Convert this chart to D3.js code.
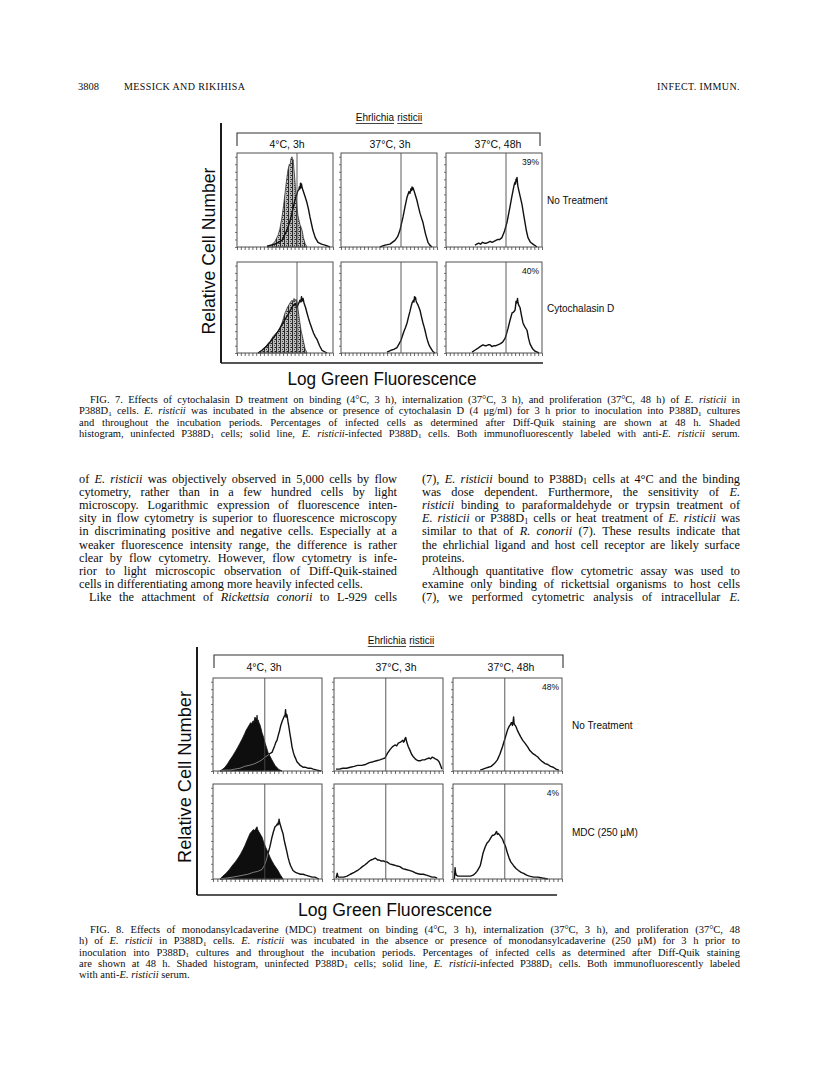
<!DOCTYPE html>
<html><head><meta charset="utf-8">
<script src="https://cdn.jsdelivr.net/npm/d3@7"></script>
<style>body{margin:0;background:#fff}svg{display:block}</style>
</head><body>
<svg id="page" width="816" height="1078"></svg>
<script>
// ---------------- DATA ----------------
const columnLabels = ["4°C, 3h", "37°C, 3h", "37°C, 48h"];
const fig7RowLabels = ["No Treatment", "Cytochalasin D"];
const fig8RowLabels = ["No Treatment", "MDC (250 µM)"];
const fig7Percent = [["", "", "39%"], ["", "", "40%"]];
const fig8Percent = [["", "", "48%"], ["", "", "4%"]];
const fig7Gate = 625;   // channel of the marker line
const fig8Gate = 475;
const channelDomain = [0, 1000];
const countDomain = [0, 100];
const xTickChannels = d3.range(0, 1001, 40);
const yTickCounts = d3.range(0, 97, 8);

// Fig. 7 histograms  [channel, relative count]
const f7NoTreat4C_uninf = [[312,0],[360,2],[396,6],[430,13],[448,20],[469,32],[485,44],[500,57],[515,70],[531,82],[545,88],[552,86],[562,94],[573,96],[580,91],[584,93],[594,82],[604,70],[615,53],[625,42],[635,33],[656,24],[677,18],[692,10],[708,4],[729,0]];
const f7NoTreat4C_inf = [[312,1],[396,3],[469,7],[521,18],[550,27],[573,36],[590,44],[604,50],[620,55],[635,60],[645,61],[650,64],[656,62],[662,68],[667,63],[672,67],[677,64],[688,60],[708,54],[729,47],[745,40],[760,32],[775,25],[790,18],[815,10],[844,5],[880,3],[917,2],[969,0]];
const f7NoTreat37C3h_inf = [[406,0],[458,2],[510,3],[562,7],[590,11],[615,18],[630,25],[646,32],[667,43],[688,53],[708,59],[718,57],[729,62],[735,60],[740,64],[745,61],[750,63],[760,60],[775,55],[790,50],[806,43],[823,36],[838,31],[854,26],[880,14],[906,5],[925,2],[948,0]];
const f7NoTreat37C48h_inf = [[302,2],[320,3],[340,4],[360,3],[380,5],[400,4],[420,4],[440,5],[460,6],[480,5],[500,6],[520,7],[540,8],[560,8],[583,10],[610,17],[635,26],[650,34],[667,43],[683,52],[698,60],[710,66],[719,69],[724,67],[729,72],[735,70],[740,74],[745,68],[750,64],[770,55],[792,45],[808,35],[823,26],[838,17],[854,10],[880,5],[906,3],[948,0]];
const f7Cyto4C_uninf = [[219,0],[260,3],[290,6],[313,9],[345,13],[375,18],[410,22],[448,27],[475,35],[500,44],[525,50],[552,55],[573,58],[585,56],[594,60],[604,57],[615,59],[625,56],[636,48],[646,40],[657,32],[667,25],[688,15],[708,5],[729,0]];
const f7Cyto4C_inf = [[219,0],[260,3],[313,8],[345,12],[375,16],[430,24],[479,33],[530,42],[583,52],[605,54],[625,50],[640,54],[656,58],[665,56],[672,62],[677,57],[688,60],[698,55],[714,50],[729,44],[745,38],[760,33],[780,27],[797,22],[815,18],[833,15],[860,8],[885,3],[938,0]];
const f7Cyto37C3h_inf = [[479,1],[520,3],[550,4],[583,6],[605,10],[625,14],[640,19],[656,24],[672,28],[688,33],[704,40],[719,46],[730,51],[740,55],[750,57],[755,58],[760,56],[766,62],[771,59],[776,61],[781,58],[786,56],[805,52],[823,47],[838,40],[854,33],[865,29],[875,25],[890,18],[906,12],[920,8],[932,6],[955,2],[979,0]];
const f7Cyto37C48h_inf = [[271,1],[300,3],[330,5],[355,7],[385,9],[405,8],[420,8],[440,9],[458,9],[479,7],[500,8],[520,8],[540,9],[563,10],[590,12],[615,16],[630,21],[646,27],[667,36],[688,44],[704,45],[719,47],[725,52],[730,57],[735,55],[740,56],[745,60],[750,55],[760,52],[771,50],[785,42],[802,33],[820,29],[844,25],[860,16],[875,10],[900,5],[927,2],[969,0]];

// Fig. 8 histograms
const f8NoTreat4C_uninf = [[64,0],[90,2],[110,4],[135,8],[156,12],[180,16],[200,20],[225,25],[248,30],[270,35],[290,40],[305,44],[320,47],[335,50],[345,52],[357,51],[367,54],[376,53],[385,58],[390,56],[395,57],[400,55],[404,60],[409,53],[414,55],[422,52],[430,50],[440,46],[450,41],[465,36],[478,30],[492,25],[505,20],[522,16],[540,12],[555,9],[569,6],[585,4],[600,2],[633,0]];
const f8NoTreat4C_inf = [[64,0],[110,1],[156,1],[200,2],[248,3],[290,5],[330,6],[360,7],[385,8],[420,10],[450,12],[478,15],[505,17],[525,19],[541,20],[555,24],[565,27],[577,31],[587,33],[598,38],[610,43],[622,49],[633,53],[640,55],[647,57],[654,59],[661,60],[664,64],[666,66],[668,60],[670,58],[675,61],[679,60],[683,57],[688,53],[697,47],[706,40],[716,33],[725,26],[737,20],[748,16],[760,13],[770,10],[785,8],[800,6],[815,5],[826,4],[850,4],[870,3],[895,3],[920,2],[954,1],[990,0]];
const f8NoTreat37C3h_inf = [[18,2],[50,2],[80,3],[115,3],[150,4],[185,5],[216,6],[255,6],[290,7],[325,9],[360,10],[390,11],[420,12],[445,13],[468,14],[490,19],[514,23],[535,26],[559,28],[575,27],[590,30],[610,31],[631,33],[638,31],[645,32],[652,35],[658,36],[664,33],[670,30],[682,26],[694,23],[712,18],[730,15],[745,13],[757,12],[775,11],[790,11],[810,12],[830,12],[850,13],[874,14],[887,13],[900,15],[915,14],[930,13],[948,12],[964,10],[978,6],[990,2]];
const f8NoTreat37C48h_inf = [[250,1],[275,2],[300,3],[325,4],[350,5],[380,8],[407,12],[430,18],[454,26],[477,35],[500,44],[515,48],[528,50],[535,52],[540,52],[545,49],[548,50],[552,54],[556,58],[560,52],[563,50],[572,49],[580,47],[590,44],[602,41],[620,37],[640,33],[660,30],[685,26],[705,22],[730,19],[755,17],[778,15],[800,12],[820,10],[845,8],[870,7],[895,5],[920,4],[945,2],[972,1]];
const f8MDC4C_uninf = [[64,0],[90,3],[120,6],[150,10],[183,15],[205,18],[230,22],[252,26],[275,31],[292,35],[310,40],[325,44],[340,48],[355,50],[370,52],[382,51],[392,53],[398,54],[404,55],[410,52],[420,50],[435,47],[450,44],[467,38],[485,33],[505,28],[523,23],[540,19],[560,15],[578,12],[596,9],[610,6],[620,4],[632,2],[642,0]];
const f8MDC4C_inf = [[64,0],[120,1],[183,2],[230,3],[275,4],[320,5],[370,7],[410,8],[450,10],[470,14],[490,20],[505,27],[520,33],[530,38],[541,44],[555,50],[569,55],[580,56],[590,58],[596,57],[600,60],[603,58],[606,63],[610,60],[615,58],[620,56],[630,52],[642,48],[653,41],[665,35],[677,29],[688,23],[700,18],[712,14],[734,9],[757,7],[780,6],[803,5],[826,5],[850,4],[880,3],[910,2],[936,2],[970,0]];
const f8MDC37C3h_inf = [[20,1],[25,4],[30,6],[35,3],[40,2],[65,2],[90,2],[120,3],[150,5],[185,7],[216,9],[240,11],[260,13],[285,15],[306,17],[325,19],[340,20],[360,21],[378,22],[390,21],[400,20],[415,20],[430,19],[455,19],[470,18],[486,18],[510,16],[540,15],[570,14],[604,13],[630,11],[660,10],[690,9],[720,8],[755,6],[790,5],[820,5],[847,4],[875,3],[900,2],[925,2],[946,1]];
const f8MDC37C48h_inf = [[12,0],[16,6],[19,12],[23,7],[30,4],[46,3],[70,3],[100,3],[130,3],[160,3],[185,4],[205,6],[220,8],[235,11],[250,14],[262,20],[275,27],[296,34],[313,38],[330,40],[345,43],[361,46],[373,46],[385,47],[393,49],[400,50],[407,47],[415,48],[430,46],[442,44],[454,42],[467,38],[480,35],[490,31],[500,27],[515,22],[530,18],[556,14],[578,11],[600,9],[625,7],[648,6],[675,4],[700,3],[740,2],[778,2],[820,1],[870,0]];

// ---------------- TEXT ----------------
const fig7Caption = [
 "FIG. 7. Effects of cytochalasin D treatment on binding (4°C, 3 h), internalization (37°C, 3 h), and proliferation (37°C, 48 h) of *E. risticii* in",
 "P388D{1} cells. *E. risticii* was incubated in the absence or presence of cytochalasin D (4 μg/ml) for 3 h prior to inoculation into P388D{1} cultures",
 "and throughout the incubation periods. Percentages of infected cells as determined after Diff-Quik staining are shown at 48 h. Shaded",
 "histogram, uninfected P388D{1} cells; solid line, *E. risticii*-infected P388D{1} cells. Both immunofluorescently labeled with anti-*E. risticii* serum."
];
const fig8Caption = [
 "FIG. 8. Effects of monodansylcadaverine (MDC) treatment on binding (4°C, 3 h), internalization (37°C, 3 h), and proliferation (37°C, 48",
 "h) of *E. risticii* in P388D{1} cells. *E. risticii* was incubated in the absence or presence of monodansylcadaverine (250 μM) for 3 h prior to",
 "inoculation into P388D{1} cultures and throughout the incubation periods. Percentages of infected cells as determined after Diff-Quik staining",
 "are shown at 48 h. Shaded histogram, uninfected P388D{1} cells; solid line, *E. risticii*-infected P388D{1} cells. Both immunofluorescently labeled",
 "with anti-*E. risticii* serum."
];
const leftColumn = [
 "of *E. risticii* was objectively observed in 5,000 cells by flow",
 "cytometry, rather than in a few hundred cells by light",
 "microscopy. Logarithmic expression of fluorescence inten-",
 "sity in flow cytometry is superior to fluorescence microscopy",
 "in discriminating positive and negative cells. Especially at a",
 "weaker fluorescence intensity range, the difference is rather",
 "clear by flow cytometry. However, flow cytometry is infe-",
 "rior to light microscopic observation of Diff-Quik-stained",
 "cells in differentiating among more heavily infected cells.",
 "Like the attachment of *Rickettsia conorii* to L-929 cells"
];
const leftJust = [1,1,1,1,1,1,1,1,0,1], leftIndent = [0,0,0,0,0,0,0,0,0,1];
const rightColumn = [
 "(7), *E. risticii* bound to P388D{1} cells at 4°C and the binding",
 "was dose dependent. Furthermore, the sensitivity of *E.*",
 "*risticii* binding to paraformaldehyde or trypsin treatment of",
 "*E. risticii* or P388D{1} cells or heat treatment of *E. risticii* was",
 "similar to that of *R. conorii* (7). These results indicate that",
 "the ehrlichial ligand and host cell receptor are likely surface",
 "proteins.",
 "Although quantitative flow cytometric assay was used to",
 "examine only binding of rickettsial organisms to host cells",
 "(7), we performed cytometric analysis of intracellular *E.*"
];
const rightJust = [1,1,1,1,1,1,0,1,1,1], rightIndent = [0,0,0,0,0,0,0,1,0,0];

// ---------------- RENDER ----------------
const svg = d3.select("#page");
const SERIF = "'Liberation Serif','Times New Roman',serif";
const SANS = "'Liberation Sans',Arial,Helvetica,sans-serif";
const INK = "#0c0c0c";

const defs = svg.append("defs");
const pat = defs.append("pattern").attr("id","stipple").attr("width",4).attr("height",4).attr("patternUnits","userSpaceOnUse");
pat.append("rect").attr("width",4).attr("height",4).attr("fill","#bdbdbd");
pat.append("rect").attr("x",0).attr("y",0).attr("width",1).attr("height",4).attr("fill","#2a2a2a");
pat.append("rect").attr("x",2).attr("y",1).attr("width",1).attr("height",1).attr("fill","#444");
pat.append("rect").attr("x",3).attr("y",3).attr("width",1).attr("height",1).attr("fill","#222");
pat.append("rect").attr("x",2).attr("y",3).attr("width",1).attr("height",1).attr("fill","#666");

function textLine(parent, line, x0, y, width, opt) {
  const size = opt.size, family = opt.family || SERIF;
  const indent = opt.indent || 0;
  let it = false, sub = false, cur = [];
  const words = [];
  for (const ch of line) {
    if (ch === "*") { it = !it; continue; }
    if (ch === "{") { sub = true; continue; }
    if (ch === "}") { sub = false; continue; }
    if (ch === " ") { if (cur.length) { words.push(cur); cur = []; } continue; }
    cur.push({ ch, it, sub });
  }
  if (cur.length) words.push(cur);
  const g = parent.append("g");
  const nodes = words.map(wc => {
    const t = g.append("text").attr("y", y).attr("font-family", family)
      .attr("font-size", size).attr("fill", INK);
    const runs = [];
    wc.forEach(c => {
      const last = runs[runs.length - 1];
      if (last && last.it === c.it && last.sub === c.sub) last.t += c.ch;
      else runs.push({ t: c.ch, it: c.it, sub: c.sub });
    });
    let shifted = false;
    runs.forEach(r => {
      const ts = t.append("tspan").text(r.t).attr("font-style", r.it ? "italic" : "normal");
      if (r.sub) { ts.attr("font-size", size * 0.66).attr("dy", size * 0.12); shifted = true; }
      else if (shifted) { ts.attr("dy", -size * 0.12); shifted = false; }
    });
    return t;
  });
  const widths = nodes.map(n => n.node().getComputedTextLength());
  const start = x0 + indent, avail = width - indent;
  const sum = d3.sum(widths), n = nodes.length;
  let gap = size * 0.25;
  const minGap = size * 0.14;
  if (opt.justify && n > 1) gap = (avail - sum) / (n - 1);
  if (n > 1 && gap < minGap) {
    gap = minGap;
    const k = avail / (sum + (n - 1) * minGap);
    g.attr("transform", `translate(${start},0) scale(${k},1) translate(${-start},0)`);
  }
  let x = start;
  nodes.forEach((nd, i) => { nd.attr("x", x); x += widths[i] + gap; });
}

// running head
svg.append("text").attr("x",78).attr("y",90).attr("font-family",SERIF).attr("font-size",10.5).attr("fill",INK).text("3808");
svg.append("text").attr("x",124).attr("y",90).attr("font-family",SERIF).attr("font-size",10).attr("letter-spacing",0.4).attr("fill",INK).text("MESSICK AND RIKIHISA");
svg.append("text").attr("x",740).attr("y",90).attr("text-anchor","end").attr("font-family",SERIF).attr("font-size",10).attr("letter-spacing",0.4).attr("fill",INK).text("INFECT. IMMUN.");

const hists = {
  f7: [[{u:f7NoTreat4C_uninf,i:f7NoTreat4C_inf},{u:null,i:f7NoTreat37C3h_inf},{u:null,i:f7NoTreat37C48h_inf}],
       [{u:f7Cyto4C_uninf,i:f7Cyto4C_inf},{u:null,i:f7Cyto37C3h_inf},{u:null,i:f7Cyto37C48h_inf}]],
  f8: [[{u:f8NoTreat4C_uninf,i:f8NoTreat4C_inf},{u:null,i:f8NoTreat37C3h_inf},{u:null,i:f8NoTreat37C48h_inf}],
       [{u:f8MDC4C_uninf,i:f8MDC4C_inf},{u:null,i:f8MDC37C3h_inf},{u:null,i:f8MDC37C48h_inf}]]
};

let clipId = 0;
function drawFigure(cfg) {
  const g = svg.append("g");
  const tsize = 10;
  const t1 = g.append("text").attr("y", cfg.titleY).attr("font-family", SANS).attr("font-size", tsize).attr("fill", INK).text("Ehrlichia");
  const t2 = g.append("text").attr("y", cfg.titleY).attr("font-family", SANS).attr("font-size", tsize).attr("fill", INK).text("risticii");
  const w1 = t1.node().getComputedTextLength(), w2 = t2.node().getComputedTextLength();
  const sp = 3.2, tot = w1 + sp + w2, sx = cfg.titleCx - tot / 2;
  t1.attr("x", sx); t2.attr("x", sx + w1 + sp);
  g.append("line").attr("x1", sx).attr("x2", sx + w1).attr("y1", cfg.titleY + 2.5).attr("y2", cfg.titleY + 2.5).attr("stroke", "#444").attr("stroke-width", 1);
  g.append("line").attr("x1", sx + w1 + sp).attr("x2", sx + tot).attr("y1", cfg.titleY + 2.5).attr("y2", cfg.titleY + 2.5).attr("stroke", "#444").attr("stroke-width", 1);
  const b = cfg.bracket;
  g.append("path").attr("d", `M${b.x1},${b.y + b.drop}V${b.y}H${b.x2}V${b.y + b.drop}`).attr("fill", "none").attr("stroke", "#333").attr("stroke-width", 1.1);
  columnLabels.forEach((lab, c) => {
    g.append("text").attr("x", cfg.colCx[c]).attr("y", cfg.colLabelY).attr("text-anchor", "middle")
      .attr("font-family", SANS).attr("font-size", 10.5).attr("fill", INK).text(lab);
  });
  g.append("line").attr("x1", cfg.axisX).attr("x2", cfg.axisX).attr("y1", cfg.axisTop).attr("y2", cfg.axisBottom).attr("stroke", "#1c1c1c").attr("stroke-width", 2);
  g.append("line").attr("x1", cfg.axisX).attr("x2", cfg.axisRight).attr("y1", cfg.axisBottom).attr("y2", cfg.axisBottom).attr("stroke", "#1c1c1c").attr("stroke-width", 1.6);
  g.append("text").attr("transform", `translate(${cfg.ylabX},${cfg.ylabY}) rotate(-90)`).attr("text-anchor", "middle")
    .attr("font-family", SANS).attr("font-size", 18).attr("textLength", cfg.ylabLen).attr("lengthAdjust", "spacingAndGlyphs")
    .attr("fill", INK).text("Relative Cell Number");
  g.append("text").attr("x", cfg.xlabX).attr("y", cfg.xlabY).attr("text-anchor", "middle")
    .attr("font-family", SANS).attr("font-size", 18).attr("textLength", cfg.xlabLen).attr("lengthAdjust", "spacingAndGlyphs")
    .attr("fill", INK).text("Log Green Fluorescence");
  cfg.rowLabels.forEach((lab, r) => {
    g.append("text").attr("x", cfg.rowLabelX).attr("y", cfg.tops[r] + cfg.hs[r] / 2 + 4)
      .attr("font-family", SANS).attr("font-size", 10).attr("fill", INK).text(lab);
  });
  for (let r = 0; r < 2; r++) for (let c = 0; c < 3; c++) {
    const x0 = cfg.x0s[c], w = cfg.w, top = cfg.tops[r], h = cfg.hs[r];
    const x = d3.scaleLinear().domain(channelDomain).range([x0, x0 + w]);
    const y = d3.scaleLinear().domain(countDomain).range([top + h, top]);
    const pg = g.append("g");
    const data = cfg.hists[r][c];
    const area = d3.area().x(d => x(d[0])).y0(y(0)).y1(d => y(d[1]));
    const line = d3.line().x(d => x(d[0])).y(d => y(d[1]));
    if (data.u) {
      pg.append("path").datum(data.u).attr("d", area).attr("fill", cfg.shadeFill)
        .attr("stroke", cfg.shadeStroke).attr("stroke-width", 0.8);
    }
    pg.append("path").datum(data.i).attr("d", line).attr("fill", "none").attr("stroke", "#111").attr("stroke-width", 1.4).attr("stroke-linejoin", "round");
    if (data.u && cfg.innerLine) {
      const id = "clip" + (clipId++);
      defs.append("clipPath").attr("id", id).append("path").datum(data.u).attr("d", area);
      pg.append("path").datum(data.i).attr("d", line).attr("fill", "none").attr("stroke", "#9a9a9a")
        .attr("stroke-width", 0.8).attr("clip-path", `url(#${id})`);
    }
    pg.append("line").attr("x1", x(cfg.gate)).attr("x2", x(cfg.gate)).attr("y1", top).attr("y2", top + h)
      .attr("stroke", "#4a4a4a").attr("stroke-width", 0.9);
    pg.append("rect").attr("x", x0).attr("y", top).attr("width", w).attr("height", h)
      .attr("fill", "none").attr("stroke", "#505050").attr("stroke-width", 1);
    const xa = pg.append("g").attr("transform", `translate(0,${top + h})`)
      .call(d3.axisBottom(x).tickValues(xTickChannels).tickSize(3).tickFormat(""));
    xa.select(".domain").remove();
    xa.selectAll("line").attr("stroke", "#444").attr("stroke-width", 0.8);
    const ya = pg.append("g").attr("transform", `translate(${x0},0)`)
      .call(d3.axisLeft(y).tickValues(yTickCounts).tickSize(2).tickFormat(""));
    ya.select(".domain").remove();
    ya.selectAll("line").attr("stroke", "#555").attr("stroke-width", 0.8);
    const pct = cfg.percent[r][c];
    if (pct) pg.append("text").attr("x", x0 + w - 3).attr("y", top + 12).attr("text-anchor", "end")
      .attr("font-family", SANS).attr("font-size", 8.5).attr("fill", INK).text(pct);
  }
}

drawFigure({
  titleY: 121, titleCx: 389,
  bracket: { x1: 237, x2: 540, y: 133, drop: 13 },
  colCx: [287, 390, 498], colLabelY: 148,
  axisX: 221, axisTop: 123, axisBottom: 363, axisRight: 543,
  ylabX: 215, ylabY: 251, ylabLen: 167,
  xlabX: 382, xlabY: 385, xlabLen: 189,
  rowLabels: fig7RowLabels, rowLabelX: 547,
  x0s: [237, 341, 446], w: 96, tops: [153, 262], hs: [94, 91],
  gate: fig7Gate, percent: fig7Percent, hists: hists.f7,
  shadeFill: "url(#stipple)", shadeStroke: "#333", innerLine: false
});

drawFigure({
  titleY: 644, titleCx: 401,
  bracket: { x1: 214, x2: 563, y: 655, drop: 13 },
  colCx: [264, 396, 511], colLabelY: 671,
  axisX: 197, axisTop: 647, axisBottom: 895, axisRight: 557,
  ylabX: 191, ylabY: 777, ylabLen: 172,
  xlabX: 395, xlabY: 916, xlabLen: 194,
  rowLabels: fig8RowLabels, rowLabelX: 572,
  x0s: [213, 334, 453], w: 109, tops: [678, 784], hs: [93, 95],
  gate: fig8Gate, percent: fig8Percent, hists: hists.f8,
  shadeFill: "#0e0e0e", shadeStroke: "#0e0e0e", innerLine: true
});

// captions
const capG = svg.append("g");
fig7Caption.forEach((ln, i) => textLine(capG, ln, 79, 403 + i * 11.3, 661, { size: 10.5, justify: true, indent: i === 0 ? 11 : 0 }));
fig8Caption.forEach((ln, i) => textLine(capG, ln, 79, 933 + i * 11.3, 661, { size: 10.5, justify: i < fig8Caption.length - 1, indent: i === 0 ? 11 : 0 }));

// body columns
const bodyG = svg.append("g");
leftColumn.forEach((ln, i) => textLine(bodyG, ln, 79, 483 + i * 13.1, 318, { size: 12.3, justify: !!leftJust[i], indent: leftIndent[i] ? 10 : 0 }));
rightColumn.forEach((ln, i) => textLine(bodyG, ln, 422, 483 + i * 13.1, 318, { size: 12.3, justify: !!rightJust[i], indent: rightIndent[i] ? 10 : 0 }));
</script>
</body></html>
